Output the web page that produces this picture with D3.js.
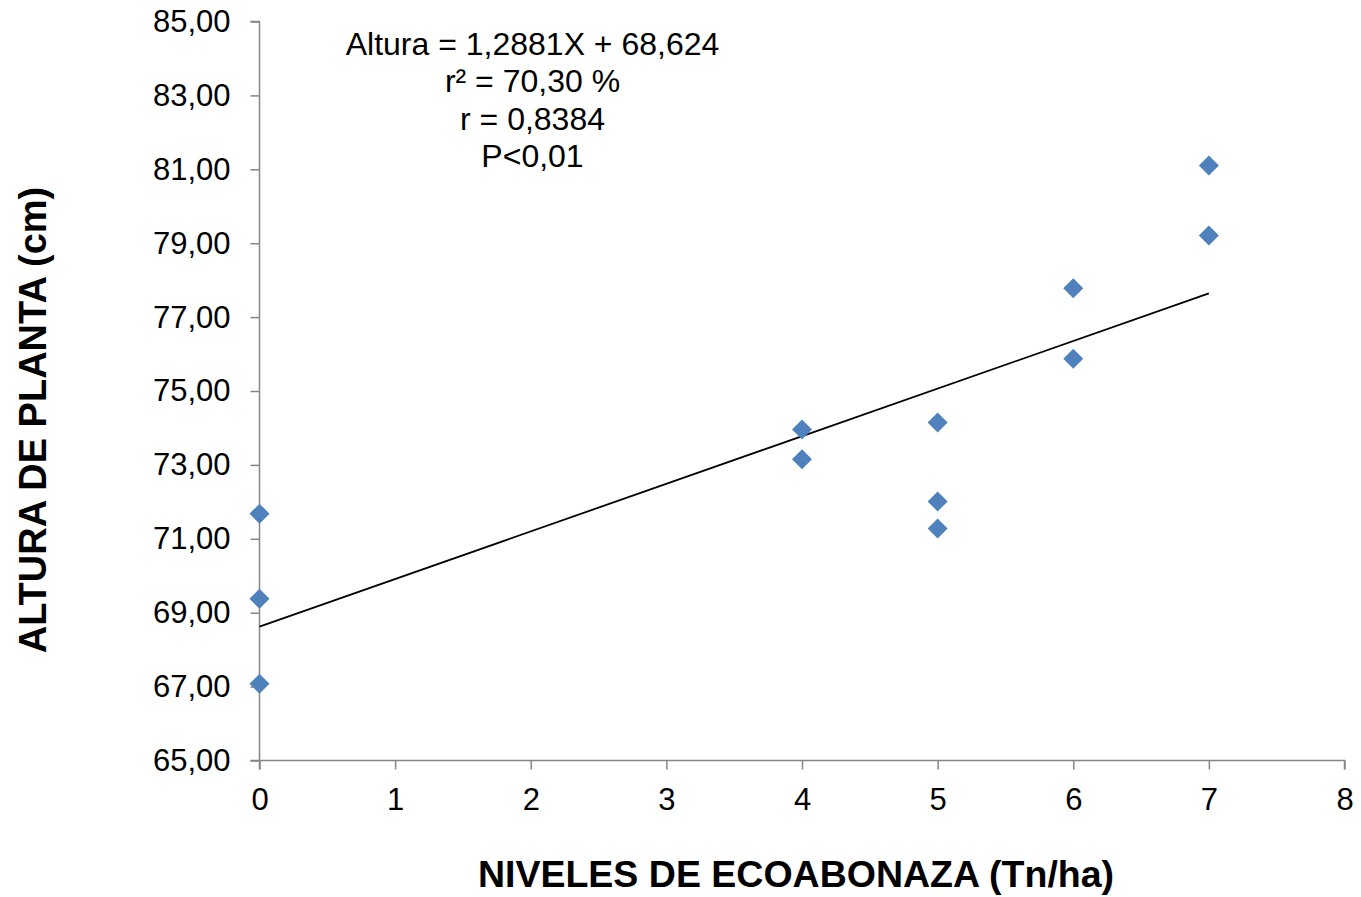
<!DOCTYPE html>
<html><head><meta charset="utf-8">
<script src="https://cdn.jsdelivr.net/npm/d3@7"></script>
<style>body{margin:0;background:#fff}svg{display:block}text{font-family:"Liberation Sans",Arial,sans-serif;fill:#000}</style>
</head><body>
<svg id="c" width="1361" height="897"></svg>
<script>
const xValues = [0,0,0,4,4,5,5,5,6,6,7,7];
const yValues = [71.68,69.38,67.08,73.96,73.15,74.15,72.01,71.28,77.78,75.87,81.10,79.21];
const xTicks = [0,1,2,3,4,5,6,7,8];
const yTicks = [65,67,69,71,73,75,77,79,81,83,85];
const slope = 1.2881, intercept = 68.624;
const annotation = ["Altura = 1,2881X + 68,624","r² = 70,30 %","r = 0,8384","P<0,01"];
const xTitle = "NIVELES DE ECOABONAZA (Tn/ha)";
const yTitle = "ALTURA DE PLANTA (cm)";

const svg = d3.select("#c");
const x = d3.scaleLinear().domain([0,8]).range([259.5,1344.5]);
const y = d3.scaleLinear().domain([65,85]).range([760.5,21.5]);
const fmt = d => d.toFixed(2).replace(".", ",");
const axisColor = "#868686";

const gx = svg.append("g").attr("transform","translate(0,760.5)")
  .call(d3.axisBottom(x).tickValues(xTicks).tickSize(9).tickPadding(18).tickFormat(d=>d));
const gy = svg.append("g").attr("transform","translate(259.5,0)")
  .call(d3.axisLeft(y).tickValues(yTicks).tickSize(9).tickPadding(20).tickFormat(fmt));
[gx,gy].forEach(g=>{
  g.select(".domain").attr("stroke",axisColor).attr("stroke-width",1.5);
  g.selectAll(".tick line").attr("stroke",axisColor).attr("stroke-width",1.5);
  g.selectAll(".tick text").attr("font-size",31).attr("fill","#000").style("font-family","'Liberation Sans',Arial,sans-serif");
});
gx.select(".domain").attr("d",`M${x(0)},9V0H${x(8)}V9`);
gy.select(".domain").attr("d",`M-9,${y(85)}H0V${y(65)}H-9`);

svg.append("line")
  .attr("x1",x(0)).attr("y1",y(intercept))
  .attr("x2",x(7)).attr("y2",y(intercept+slope*7))
  .attr("stroke","#000").attr("stroke-width",1.8);

const diamond = d3.symbol().type(d3.symbolSquare).size(200);
svg.append("g").selectAll("path").data(xValues.map((v,i)=>[v,yValues[i]])).join("path")
  .attr("d",diamond)
  .attr("transform",d=>`translate(${x(d[0])},${y(d[1])}) rotate(45)`)
  .attr("fill","#4f81bd");

svg.append("g").selectAll("text").data(annotation).join("text")
  .attr("x",532.5).attr("y",(d,i)=>55+i*37.3).attr("text-anchor","middle")
  .attr("font-size",32).text(d=>d);

svg.append("text").attr("x",796).attr("y",887).attr("text-anchor","middle")
  .attr("font-size",37.5).attr("font-weight","bold").text(xTitle);
svg.append("text").attr("transform","translate(46,420) rotate(-90)").attr("text-anchor","middle")
  .attr("font-size",38).attr("font-weight","bold").text(yTitle);
</script>
</body></html>
